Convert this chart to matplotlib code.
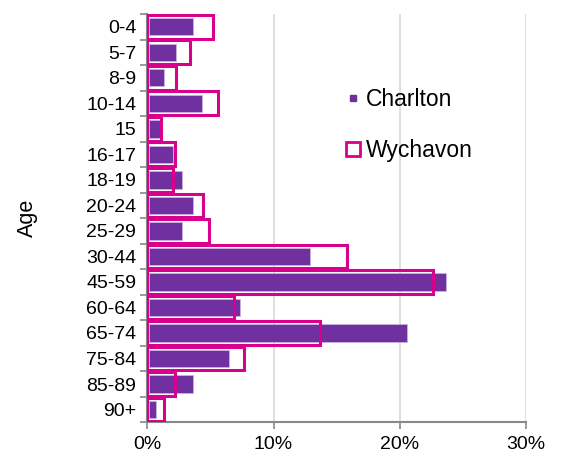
import numpy as np
import matplotlib
matplotlib.use('Agg')
import matplotlib.pyplot as plt
from matplotlib.lines import Line2D

plt.rcParams['font.family'] = ['Liberation Sans', 'DejaVu Sans']

ages      = ['0-4','5-7','8-9','10-14','15','16-17','18-19','20-24','25-29',
             '30-44','45-59','60-64','65-74','75-84','85-89','90+']
charlton  = [3.5, 2.1, 1.2, 4.2, 0.85, 1.9, 2.6, 3.5, 2.6,
             12.7, 23.5, 7.2, 20.4, 6.35, 3.5, 0.5]
wychavon  = [5.2, 3.4, 2.3, 5.6, 1.05, 2.2, 2.0, 4.4, 4.9,
             15.85, 22.6, 6.9, 13.7, 7.65, 2.2, 1.3]

purple = '#7030A0'
pink   = '#D9008D'
grey   = '#888888'

fig = plt.figure(figsize=(5.63,4.57), dpi=100, facecolor='w')
ax = fig.add_axes([147.3/563, 1-422.3/457, (526-147.3)/563, (422.3-14)/457])

y = np.arange(len(ages))
ax.barh(y, charlton, height=0.68, left=0.15, color=purple, edgecolor='#C9B3DD',
        linewidth=0.6, zorder=2)
ax.barh(y, wychavon, height=0.93, color='none', edgecolor=pink,
        linewidth=2.2, zorder=3)

ax.set_xlim(0,30)
ax.set_ylim(len(ages)-0.5, -0.5)
ax.set_xticks([0,10,20,30])
ax.set_xticklabels(['0%','10%','20%','30%'], fontsize=14)
ax.set_yticks(y)
ax.set_yticklabels(ages, fontsize=14)
ax.set_yticks(np.arange(len(ages)+1)-0.5, minor=True)
ax.tick_params(axis='y', which='major', length=0, pad=8)
ax.tick_params(axis='y', which='minor', length=5, color=grey, width=1.2)
ax.tick_params(axis='x', length=5, color=grey, width=1.2, pad=5)
ax.xaxis.grid(True, color='#D9D9D9', linewidth=1.2, zorder=0)
ax.set_axisbelow(True)
for s in ['top','right']:
    ax.spines[s].set_visible(False)
for s in ['left','bottom']:
    ax.spines[s].set_color(grey)
    ax.spines[s].set_linewidth(1.5)
ax.set_ylabel('Age', fontsize=15.5)
ax.yaxis.set_label_coords(-(147.3-38)/(526-147.3), 0.5)

handles = [Line2D([],[], linestyle='none', marker='s', markersize=4,
                  markerfacecolor=purple, markeredgecolor=purple),
           Line2D([],[], linestyle='none', marker='s', markersize=10,
                  markerfacecolor='white', markeredgecolor=pink, markeredgewidth=2)]
fig.legend(handles, ['Charlton','Wychavon'], loc='upper left',
           bbox_to_anchor=(340/563, 1-83/457), frameon=False, fontsize=16.5,
           labelspacing=1.25, handlelength=0.7, handletextpad=0.25,
           borderaxespad=0, borderpad=0.2)

fig.savefig('out.png', dpi=100)
